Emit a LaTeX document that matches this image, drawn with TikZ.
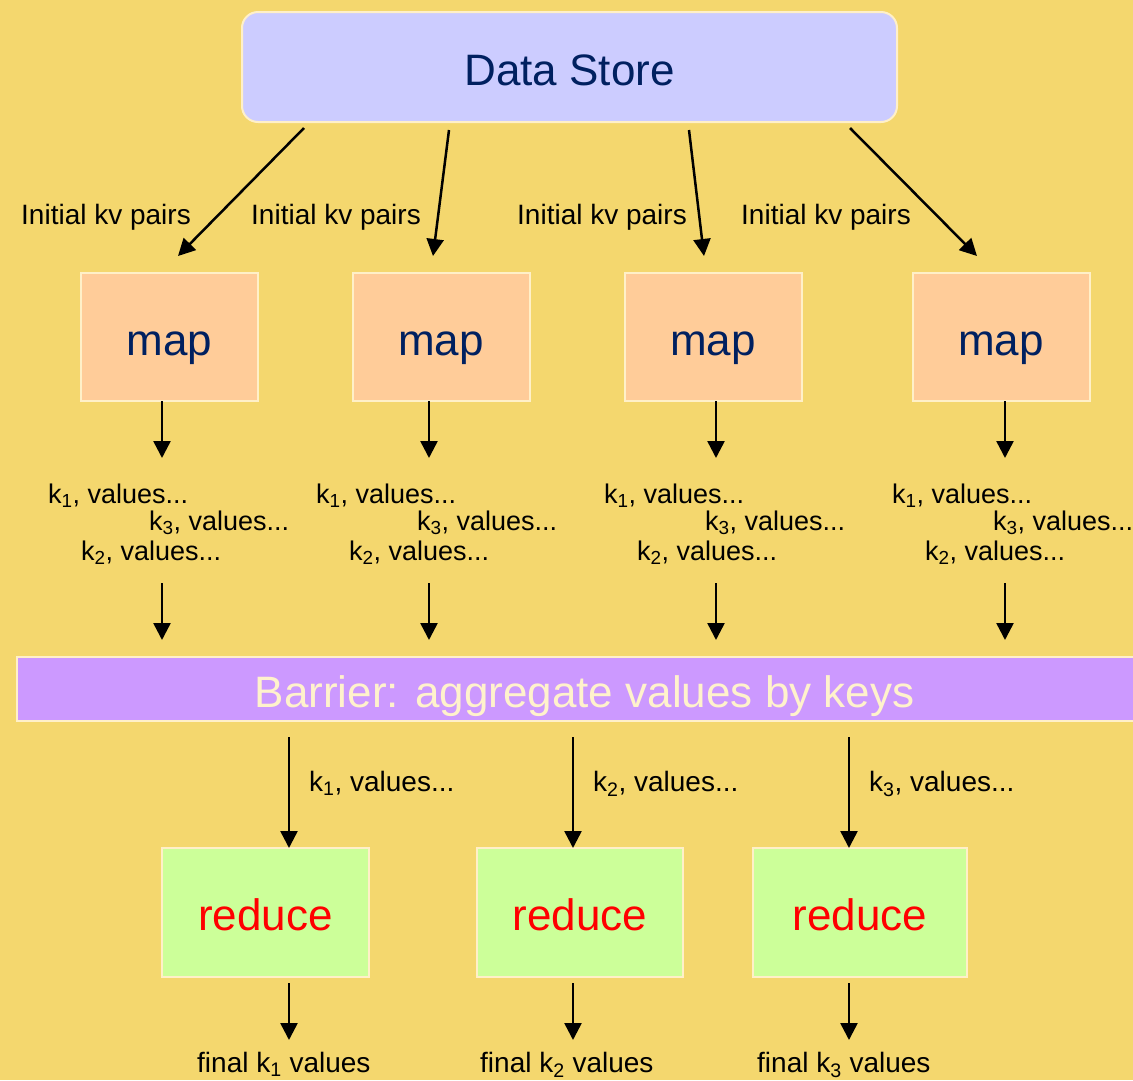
\documentclass[tikz,border=0pt]{standalone}
\usepackage{fontspec}
\setmainfont{Liberation Sans}
\usetikzlibrary{arrows.meta}
\definecolor{bg}{RGB}{244,215,110}
\definecolor{navy}{RGB}{0,32,96}
\definecolor{cream}{RGB}{255,240,200}
\definecolor{dsfill}{RGB}{204,204,255}
\definecolor{mapfill}{RGB}{255,204,153}
\definecolor{redfill}{RGB}{204,255,153}
\definecolor{barfill}{RGB}{204,153,255}
\definecolor{bartext}{RGB}{255,242,204}
\begin{document}
\begin{tikzpicture}[x=1pt,y=-1pt,
  boxbase/.style={draw=cream, line width=2pt, inner sep=0pt, text height=36pt, text depth=0pt,
    font=\fontsize{44}{50}\selectfont},
  dsbox/.style={boxbase, fill=dsfill, text=navy, rounded corners=16pt, minimum width=655pt, minimum height=110pt},
  mapbox/.style={boxbase, fill=mapfill, text=navy, minimum width=177pt, minimum height=128pt},
  redbox/.style={boxbase, fill=redfill, text=red, minimum height=129pt},
  barbox/.style={boxbase, fill=barfill, text=bartext, minimum width=1135pt, minimum height=64pt},
  lbl/.style={inner sep=0pt, anchor=base west, font=\fontsize{28}{32}\selectfont, text=black},
  kvl/.style={lbl, font=\fontsize{27}{32}\selectfont},
  arr/.style={line width=2.5pt, -{Triangle[width=17pt,length=17pt]}}
]
\clip (0,0) rectangle (1133,1080);
\fill[bg] (0,0) rectangle (1133,1080);

% Data store
\node[dsbox] (ds) at (569.5,67) {Data Store};

% map boxes
\node[mapbox] (m1) at (169.5,337) {map};
\node[mapbox] (m2) at (441,337) {map};
\node[mapbox] (m3) at (713,337) {map};
\node[mapbox] (m4) at (1001,337) {map};

% arrows data store -> map
\coordinate (s1) at (304,128); \coordinate (e1) at (178,256);
\coordinate (s2) at (449,130); \coordinate (e2) at (433,256);
\coordinate (s3) at (689,130); \coordinate (e3) at (704,256);
\coordinate (s4) at (850,128); \coordinate (e4) at (977,256);
\draw[arr] (s1) -- (e1);
\draw[arr] (s2) -- (e2);
\draw[arr] (s3) -- (e3);
\draw[arr] (s4) -- (e4);

\node[lbl] (i1) at (21,224) {Initial kv pairs};
\node[lbl] (i2) at (251,224) {Initial kv pairs};
\node[lbl] (i3) at (517,224) {Initial kv pairs};
\node[lbl] (i4) at (741,224) {Initial kv pairs};

% map -> kv arrows
\foreach \i/\x in {1/162,2/429,3/716,4/1005}{
  \coordinate (ma\i) at (\x,401);
  \coordinate (mb\i) at (\x,458);
  \draw[arr] (ma\i) -- (mb\i);
  \coordinate (ka\i) at (\x,583);
  \coordinate (kb\i) at (\x,640);
  \draw[arr] (ka\i) -- (kb\i);
}

% kv blocks
\foreach \i/\b in {1/0,2/268,3/556,4/844}{
  \node[kvl] (ka1\i) at (48+\b,503) {k\textsubscript{1}, values...};
  \node[kvl] (ka3\i) at (149+\b,530) {k\textsubscript{3}, values...};
  \node[kvl] (ka2\i) at (81+\b,560) {k\textsubscript{2}, values...};
}

% barrier
\node[barbox] (bar) at (584.5,689) {Barrier: aggregate values by keys};

% reduce boxes
\node[redbox, minimum width=207pt] (r1) at (265.5,912.5) {reduce};
\node[redbox, minimum width=206pt] (r2) at (580,912.5) {reduce};
\node[redbox, minimum width=214pt] (r3) at (860,912.5) {reduce};

% barrier -> reduce, reduce -> final
\foreach \i/\x in {1/289,2/573,3/849}{
  \coordinate (ba\i) at (\x,737);
  \coordinate (bb\i) at (\x,848);
  \draw[arr] (ba\i) -- (bb\i);
  \coordinate (fa\i) at (\x,983);
  \coordinate (fb\i) at (\x,1040);
  \draw[arr] (fa\i) -- (fb\i);
}

\node[lbl] (rl1) at (309,791) {k\textsubscript{1}, values...};
\node[lbl] (rl2) at (593,791) {k\textsubscript{2}, values...};
\node[lbl] (rl3) at (869,791) {k\textsubscript{3}, values...};

\node[lbl] (f1) at (197,1072) {final k\textsubscript{1} values};
\node[lbl] (f2) at (480,1072) {final k\textsubscript{2} values};
\node[lbl] (f3) at (757,1072) {final k\textsubscript{3} values};
\end{tikzpicture}
\end{document}
